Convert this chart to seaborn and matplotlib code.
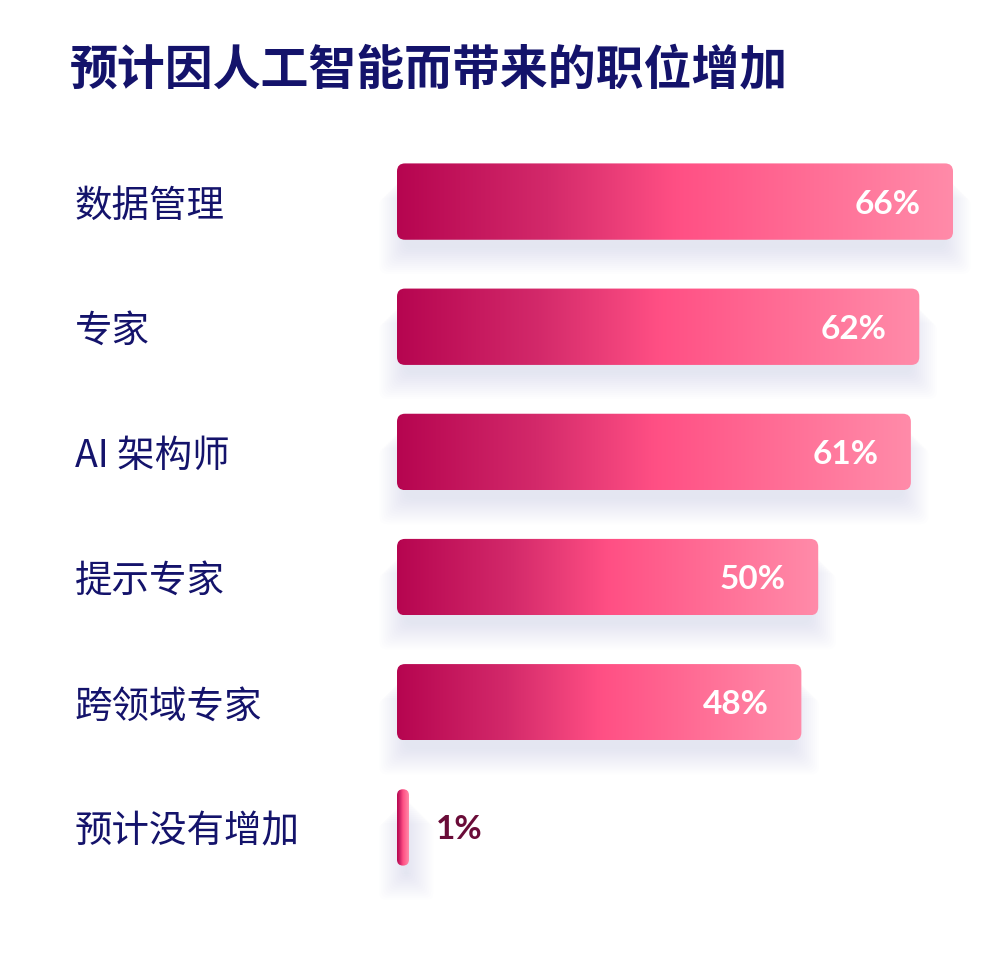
import numpy as np
import pandas as pd
import matplotlib
matplotlib.use("Agg")
import matplotlib.pyplot as plt
import seaborn as sns
from matplotlib.patches import FancyBboxPatch
from matplotlib.colors import LinearSegmentedColormap

categories = ["数据管理", "专家", "AI 架构师", "提示专家", "跨领域专家", "预计没有增加"]
values = [66, 62, 61, 50, 48, 1]
value_labels = ["66%", "62%", "61%", "50%", "48%", "1%"]
title = "预计因人工智能而带来的职位增加"

sns.set_theme(style="white")
plt.rcParams["font.family"] = ["Noto Sans CJK SC", "DejaVu Sans"]

NAVY = "#14136b"
df = pd.DataFrame({"cat": categories, "val": values})

fig = plt.figure(figsize=(10, 9.66), dpi=100)
fig.patch.set_facecolor("white")
ax = fig.add_axes([0.397, 1 - 890 / 966, 0.556, 751 / 966])
ax.set_facecolor("none")

sns.barplot(data=df, y="cat", x="val", orient="h", ax=ax, width=0.61,
            color="#ff4f84", edgecolor="none")

ax.set_xlim(0, 66)
ax.set_ylim(5.5, -0.5)

px_x = 556 / 66.0       # pixels per x unit
px_y = 751 / 6.0        # pixels per y unit
aspect = px_x / px_y

cmap = LinearSegmentedColormap.from_list(
    "g", [(0.0, "#b60550"), (0.27, "#d3296a"), (0.5, "#ff4f84"),
          (0.75, "#ff6e96"), (1.0, "#ff8ba9")])
grad = np.linspace(0, 1, 256).reshape(1, -1)

for p in list(ax.patches):
    x0, y0 = p.get_x(), p.get_y()
    w, h = p.get_width(), p.get_height()
    p.set_visible(False)
    wd = max(w, 12 / px_x)
    r = min(8 / px_x, wd / 2)
    # soft shadow
    for k in range(14):
        off = (8 + k * 2.0) / px_y
        grow = (k * 2.0) / px_x
        sh = FancyBboxPatch((x0 + 1.0 - grow, y0 + off), max(wd - 2.0, 0.2) + 2 * grow, h,
                            boxstyle=f"round,pad=0,rounding_size={max(r, 0.1)}",
                            mutation_aspect=aspect, facecolor="#c9cdea",
                            edgecolor="none", alpha=0.035, zorder=1, clip_on=False)
        ax.add_patch(sh)
    box = FancyBboxPatch((x0, y0), wd, h,
                         boxstyle=f"round,pad=0,rounding_size={r}",
                         mutation_aspect=aspect, facecolor="none",
                         edgecolor="none", zorder=3, clip_on=False)
    ax.add_patch(box)
    im = ax.imshow(grad, cmap=cmap, extent=(x0, x0 + wd, y0 + h, y0),
                   aspect="auto", zorder=2, interpolation="bicubic")
    im.set_clip_path(box)

ax.set_xlim(0, 66)
ax.set_ylim(5.5, -0.5)

for i, (v, lab) in enumerate(zip(values, value_labels)):
    if v >= 10:
        ax.annotate(lab, xy=(v, i), xytext=(-23.5, 0), textcoords="offset points",
                    ha="right", va="center_baseline", color="white",
                    fontsize=24, fontweight="bold", family=["Lato", "DejaVu Sans"], zorder=5)
    else:
        ax.annotate(lab, xy=(12 / px_x, i), xytext=(19.5, 0), textcoords="offset points",
                    ha="left", va="center_baseline", color="#6a0c38",
                    fontsize=24, fontweight="bold", family=["Lato", "DejaVu Sans"], zorder=5)

ax.set_xlabel("")
ax.set_ylabel("")
ax.set_xticks([])
ax.set_yticks(range(len(categories)))
ax.set_yticklabels(categories, ha="left", fontsize=27, color=NAVY, fontweight="medium")
ax.tick_params(axis="y", length=0, pad=322 * 0.72)
for s in ax.spines.values():
    s.set_visible(False)

fig.text(0.070, 1 - 70 / 966, title, ha="left", va="center", fontsize=34.5,
         fontweight="bold", color=NAVY)

fig.savefig("out.png", dpi=100, facecolor="white")
